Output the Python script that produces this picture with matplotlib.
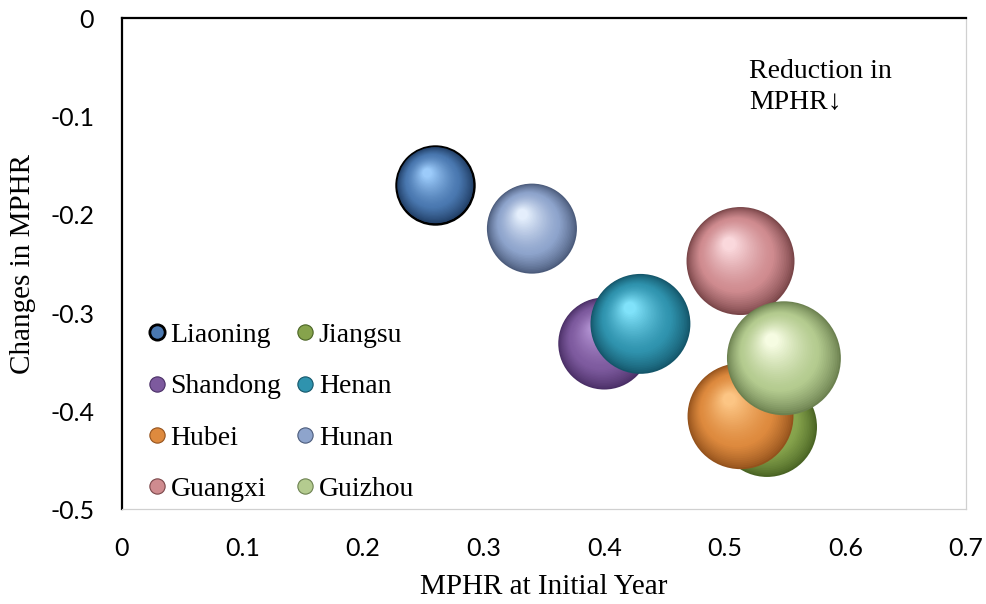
import numpy as np
import matplotlib
matplotlib.use('Agg')
import matplotlib.pyplot as plt
import matplotlib.transforms as mtransforms
from matplotlib.colors import to_rgb
from matplotlib.lines import Line2D

# series in the order they are drawn (later ones sit on top)
provinces = ['Liaoning', 'Jiangsu', 'Shandong', 'Henan', 'Hubei', 'Hunan', 'Guangxi', 'Guizhou']
mphr_initial = [0.260, 0.535, 0.400, 0.430, 0.513, 0.340, 0.513, 0.549]
mphr_change = [-0.170, -0.416, -0.331, -0.311, -0.405, -0.214, -0.247, -0.346]
bubble = [15.2, 25.0, 21.2, 25.0, 28.1, 20.3, 29.2, 32.5]

base_colors = ['#4A78B0', '#86A34C', '#7D5A9E', '#2F93AE', '#DE8A3E', '#8EA4CC', '#CF8B8F', '#B4CB8F']
rim_colors = ['#1E3A60', '#4A6424', '#4A2F66', '#14566A', '#94521C', '#4B5B7B', '#7A4649', '#6C8150']
light_colors = ['#9CCBFA', '#C2DA8A', '#B090D0', '#80E2FA', '#FCC584', '#E4EEFC', '#FAD8DC', '#F6FCE2']

plt.rcParams['font.family'] = ['Liberation Serif', 'DejaVu Serif']

fig = plt.figure(figsize=(9.87, 6.04), dpi=100)
ax = fig.add_axes([0.1236, 0.1565, 0.8551, 0.8129])
ax.set_xlim(0, 0.7)
ax.set_ylim(-0.5, 0)


def mix(c1, c2, t):
    a, b = np.array(to_rgb(c1)), np.array(to_rgb(c2))
    return tuple(a + (b - a) * t)


n_layers = 36
for i, name in enumerate(provinces):
    s = bubble[i] * 207
    r_pt = np.sqrt(s) / 2
    # highlight sits up and to the left of the centre
    hx, hy = -0.24 * r_pt, 0.36 * r_pt
    for k in range(n_layers):
        t = k / (n_layers - 1)
        f = 1 - 0.88 * t
        if t < 0.35:
            col = mix(rim_colors[i], base_colors[i], (t / 0.35) ** 0.8)
        else:
            col = mix(base_colors[i], light_colors[i], ((t - 0.35) / 0.65) ** 1.3)
        tr = mtransforms.offset_copy(ax.transData, fig=fig,
                                     x=(1 - f) * hx, y=(1 - f) * hy, units='points')
        edge = 'black' if (k == 0 and name == 'Liaoning') else 'none'
        ax.scatter([mphr_initial[i]], [mphr_change[i]], s=s * f * f, color=col,
                   edgecolors=edge, linewidths=1.8, transform=tr,
                   zorder=2 + i + k / n_layers)

# axes frame: y=0 axis line on top, light plot-area border right and bottom
for side in ['left', 'top']:
    ax.spines[side].set_color('black')
    ax.spines[side].set_linewidth(1.6)
for side in ['right', 'bottom']:
    ax.spines[side].set_color('#D0D0D0')
    ax.spines[side].set_linewidth(0.9)

ax.set_xticks(np.arange(0, 0.71, 0.1))
ax.set_yticks(np.arange(-0.5, 0.01, 0.1))
ax.set_xticklabels(['0', '0.1', '0.2', '0.3', '0.4', '0.5', '0.6', '0.7'])
ax.set_yticklabels(['-0.5', '-0.4', '-0.3', '-0.2', '-0.1', '0'])
ax.tick_params(length=0)
ax.tick_params(axis='x', pad=20)
ax.tick_params(axis='y', pad=20)
for lab in ax.get_xticklabels() + ax.get_yticklabels():
    lab.set_fontfamily('Lato')
    lab.set_fontsize(18)

ax.set_xlabel('MPHR at Initial Year', fontsize=21, labelpad=10)
ax.set_ylabel('Changes in MPHR', fontsize=21, labelpad=10)

ax.text(0.743, 0.917, 'Reduction in\nMPHR\u2193', transform=ax.transAxes,
        fontsize=20, va='top', ha='left', linespacing=1.3)

# legend laid out row-wise in two columns
handles = []
for i, name in enumerate(provinces):
    ec = 'black' if name == 'Liaoning' else rim_colors[i]
    mew = 2.0 if name == 'Liaoning' else 0.8
    handles.append(Line2D([], [], linestyle='none', marker='o', markersize=11,
                          markerfacecolor=base_colors[i], markeredgecolor=ec,
                          markeredgewidth=mew, label=name))
order = [0, 2, 4, 6, 1, 3, 5, 7]
ax.legend([handles[j] for j in order], [provinces[j] for j in order],
          ncol=2, loc='upper left', bbox_to_anchor=(0.008, 0.42), frameon=False,
          fontsize=20, handlelength=0.6, handletextpad=0.2, columnspacing=0.55,
          labelspacing=0.93, borderaxespad=0.3)

fig.savefig('out.png', dpi=100)
